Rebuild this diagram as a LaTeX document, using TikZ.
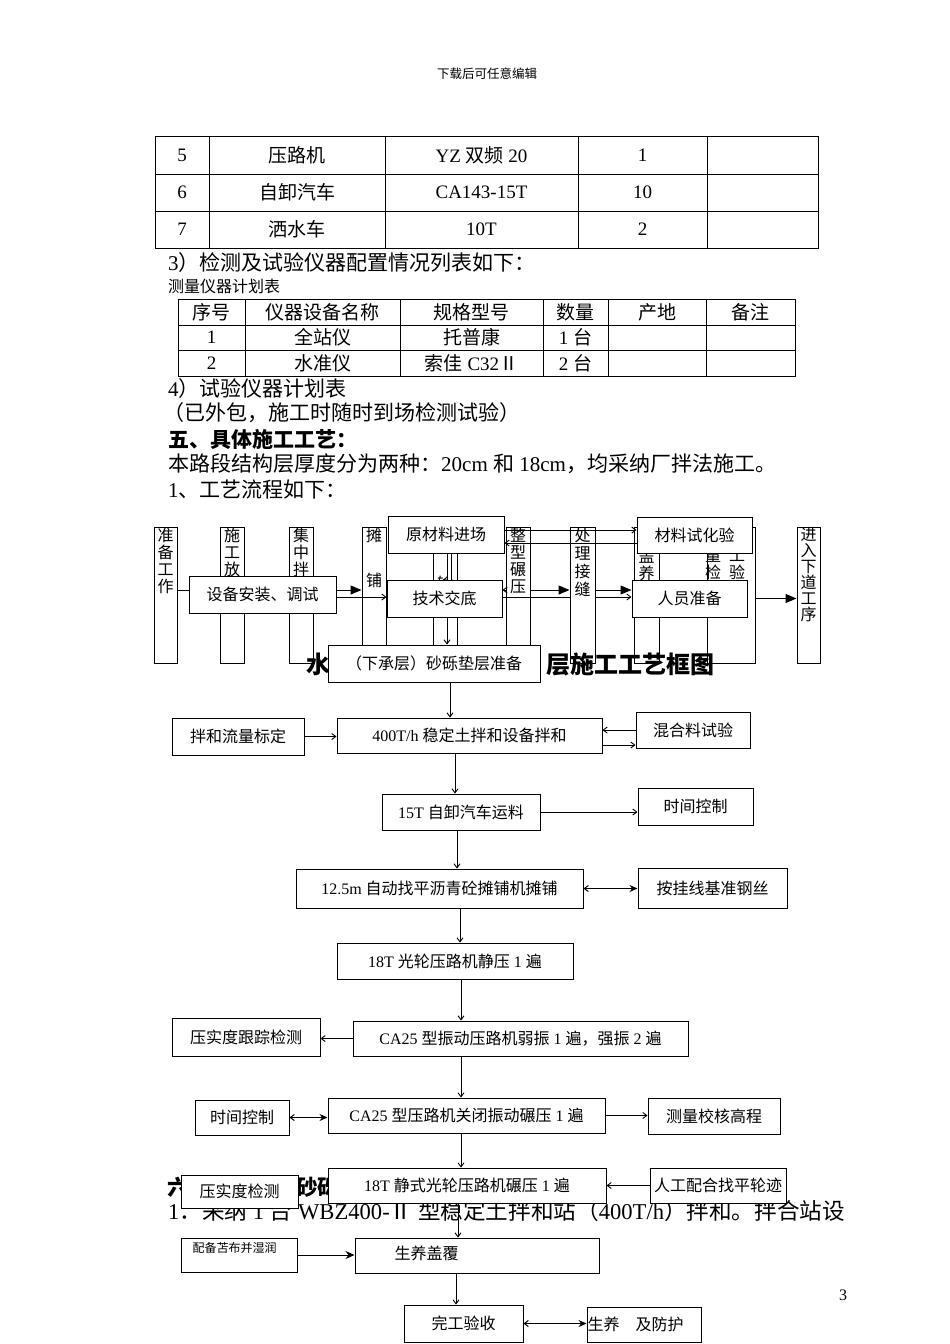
\documentclass[tikz,border=0pt]{standalone}
\usepackage{fontspec}
\setmainfont{Liberation Serif}
\newfontfamily\cjk{Noto Sans CJK SC}
\usetikzlibrary{arrows.meta}

% han characters and full-width signs are set in \cjk
\XeTeXinterchartokenstate=1
\newXeTeXintercharclass\hancls
\newcommand\hanrange[2]{%
  \count255=#1\relax
  \loop
    \XeTeXcharclass\count255=\hancls
    \ifnum\count255<#2\relax
    \advance\count255 by 1\relax
  \repeat}
\hanrange{"2160}{"217F}
\hanrange{"3000}{"303F}
\hanrange{"4E00}{"9FFF}
\hanrange{"FF00}{"FFEF}
\XeTeXinterchartoks 0 \hancls = {\cjk}
\XeTeXinterchartoks 4095 \hancls = {\cjk}
\XeTeXinterchartoks \hancls 0 = {\rmfamily}
\XeTeXinterchartoks \hancls 4095 = {\rmfamily}

\newcommand\fsz[1]{\fontsize{#1}{#1}\selectfont}

\begin{document}
\begin{tikzpicture}[x=1pt, y=-1pt,
  box/.style={draw, fill=white, line width=1pt, inner sep=0pt, font=\fsz{16}},
  vbox/.style={draw, line width=1pt, inner sep=0pt, minimum height=136pt},
  vtxt/.style={anchor=north, align=center, inner sep=0pt, yshift=-1pt, font=\fontsize{16}{17}\selectfont},
  tline/.style={line width=1pt},
  sarr/.style={line width=0.9pt, arrows={-Straight Barb[length=4pt,width=6pt]}},
  farr/.style={line width=1pt, arrows={-Triangle[length=11pt,width=9pt]}},
  darr/.style={line width=1pt, arrows={Straight Barb[length=4pt,width=6pt]-Stealth[length=8pt,width=7pt]}},
  parr/.style={line width=1pt, arrows={-Stealth[length=9pt,width=8pt]}},
  dline/.style={line width=0.8pt, double, double distance=2.5pt},
  txt/.style={anchor=west, inner sep=0pt},
  tcell/.style={inner sep=0pt, font=\fsz{19}}]
\fill[white] (0,0) rectangle (950,1344);
\useasboundingbox (0,0) rectangle (950,1344);

\node[inner sep=0pt, font=\fsz{12.5}] (hdr) at (487,74) {下载后可任意编辑};

% machine table
\draw[tline] (155,136) rectangle (818,248);
\foreach \yy in {174,211} \draw[tline] (155,\yy) -- (818,\yy);
\foreach \xx in {209,385,578,707} \draw[tline] (\xx,136) -- (\xx,248);
\foreach \cx/\cy/\txt [count=\k] in {182/155/5, 297/155/压路机, 481.5/155/YZ 双频 20, 642.5/155/1,
    182/192.5/6, 297/192.5/自卸汽车, 481.5/192.5/CA143-15T, 642.5/192.5/10,
    182/229.5/7, 297/229.5/洒水车, 481.5/229.5/10T, 642.5/229.5/2}
  \node[tcell] (ja\k) at (\cx,\cy) {\txt};

\node[txt, font=\fsz{21}] (p3) at (168,263) {3）检测及试验仪器配置情况列表如下：};
\node[txt, font=\fsz{16}] (p3t) at (168,286) {测量仪器计划表};

% instrument table
\draw[tline] (178,299) rectangle (795,376);
\foreach \yy in {325,350} \draw[tline] (178,\yy) -- (795,\yy);
\foreach \xx in {245,400,543,608,706} \draw[tline] (\xx,299) -- (\xx,376);
\foreach \cx/\cy/\txt [count=\k] in {211.5/312/序号, 322.5/312/仪器设备名称, 471.5/312/规格型号,
    575.5/312/数量, 657/312/产地, 750.5/312/备注,
    211.5/337.5/1, 322.5/337.5/全站仪, 471.5/337.5/托普康, 575.5/337.5/1 台,
    211.5/363/2, 322.5/363/水准仪, 471.5/363/索佳 C32Ⅱ, 575.5/363/2 台}
  \node[tcell] (yq\k) at (\cx,\cy) {\txt};

\node[txt, font=\fsz{21}] (p4) at (168,389) {4）试验仪器计划表};
\node[txt, font=\fsz{21}] (p4b) at (163,413) {（已外包，施工时随时到场检测试验）};
\node[txt, font=\bfseries\fsz{21}] (p5) at (168,439) {五、具体施工工艺：};
\node[txt, font=\fsz{21}] (p5a) at (168,464) {本路段结构层厚度分为两种：20cm 和 18cm，均采纳厂拌法施工。};
\node[txt, font=\fsz{21}] (p5b) at (168,490) {1、工艺流程如下：};

% upper chart: tall columns
\node[vbox, minimum width=23pt, label={[vtxt]north:{准\\备\\工\\作}}] (zb) at (165.5,595) {};
\node[vbox, minimum width=24pt, label={[vtxt]north:{施\\工\\放}}] (sg) at (232,595) {};
\node[vbox, minimum width=24pt, label={[vtxt]north:{集\\中\\拌}}] (jz) at (301,595) {};
\node[vbox, minimum width=24pt, label={[vtxt]north:{摊\\[28pt]铺}}] (tp) at (374,595) {};
\node[vbox, minimum width=24pt, label={[vtxt, yshift=-48pt]north:{输}}] (ys) at (445,595) {};
\node[vbox, minimum width=24pt, label={[vtxt]north:{整\\型\\碾\\压}}] (zx) at (518,595) {};
\node[vbox, minimum width=25pt, label={[vtxt, font=\fontsize{16}{18}\selectfont]north:{处\\理\\接\\缝}}] (cl) at (582.5,595) {};
\node[vbox, minimum width=25pt, label={[vtxt, yshift=-21pt]north:{盖\\养}}] (yh) at (646.5,595) {};
\node[vbox, minimum width=48pt, label={[vtxt, yshift=-21pt, xshift=-6pt]north:{量\hspace{8pt}工\\检\hspace{8pt}验}}] (zl) at (731,595) {};
\node[vbox, minimum width=23pt, label={[vtxt, font=\fontsize{16}{16}\selectfont]north:{进\\入\\下\\道\\工\\序}}] (jr) at (808.5,595) {};

\node[inner sep=0pt, font=\bfseries\fsz{24}] (tt1) at (318,664) {水};
\node[inner sep=0pt, font=\bfseries\fsz{24}] (tt2) at (630,664) {层施工工艺框图};

% upper chart: boxes over the columns
\node[box, minimum width=147pt, minimum height=37pt] (sbaz) at (262.5,594.5) {设备安装、调试};
\node[box, minimum width=116pt, minimum height=37pt] (ycl) at (446,534.5) {原材料进场};
\node[box, minimum width=115pt, minimum height=37pt] (jsjd) at (444.5,598.5) {技术交底};
\node[box, minimum width=212pt, minimum height=37pt] (sl) at (434,663.5) {（下承层）砂砾垫层准备};
\node[box, minimum width=115pt, minimum height=36pt] (clsh) at (694.5,535) {材料试化验};
\node[box, minimum width=115pt, minimum height=37pt] (rybz) at (689.5,598.5) {人员准备};

\draw[tline] ([yshift=4.5pt]sbaz.west -| zb.east) -- ([yshift=4.5pt]sbaz.west);
\draw[farr] ([yshift=4.5pt]sbaz.east) -- ([yshift=4.5pt]sbaz.east -| tp.west);
\draw[sarr] ([yshift=-2.5pt]sbaz.east) -- ([yshift=-2.5pt]sbaz.east -| jsjd.west);
\draw[dline] ([xshift=3.5pt]ycl.south) -- ([xshift=3.5pt]ycl.south |- jsjd.north);
\draw[sarr] ([xshift=2.5pt]jsjd.south) -- ([xshift=2.5pt]jsjd.south |- sl.north);
\draw[sarr] ([yshift=8.5pt]jsjd.east -| zx.west) -- ([yshift=8.5pt]jsjd.east);
\draw[farr] ([yshift=8.5pt]jsjd.east -| zx.east) -- ([yshift=8.5pt]jsjd.east -| cl.west);
\draw[tline] ([yshift=1.5pt]jsjd.east) -- ([yshift=1.5pt]jsjd.east -| cl.west);
\draw[farr] ([yshift=8.5pt]rybz.west -| cl.east) -- ([yshift=8.5pt]rybz.west);
\draw[sarr] ([yshift=1.5pt]rybz.west -| cl.east) -- ([yshift=1.5pt]rybz.west);
\draw[sarr] ([yshift=4.5pt]ycl.east) -- ([yshift=4.5pt]ycl.east -| clsh.west);
\draw[sarr] ([yshift=-8.5pt]ycl.east -| clsh.west) -- ([yshift=-8.5pt]ycl.east);
\draw[farr] (zl.east |- rybz.east) -- (jr.west |- rybz.east);

% lower chart
\node[txt, font=\bfseries\fsz{21.5}] (h6) at (167,1187) {六、水泥稳定砂砾};
\node[txt, font=\fsz{22.6}] (zd) at (168,1211) {1．采纳 1 台 WBZ400-Ⅱ 型稳定土拌和站（400T/h）拌和。拌合站设};

\node[box, minimum width=132pt, minimum height=37pt] (bll) at (238,736.5) {拌和流量标定};
\node[box, minimum width=265pt, minimum height=35pt] (bhe) at (469.5,735.5) {400T/h 稳定土拌和设备拌和};
\node[box, minimum width=114pt, minimum height=36pt] (hsy) at (693,730) {混合料试验};
\node[box, minimum width=158pt, minimum height=36pt] (ysl) at (461,812) {15T 自卸汽车运料};
\node[box, minimum width=115pt, minimum height=37pt] (sjkz1) at (695.5,806.5) {时间控制};
\node[box, minimum width=287pt, minimum height=39pt] (tpj) at (439.5,888.5) {12.5m 自动找平沥青砼摊铺机摊铺};
\node[box, minimum width=149pt, minimum height=40pt] (agx) at (712.5,888) {按挂线基准钢丝};
\node[box, minimum width=236pt, minimum height=36pt] (jy) at (455,961) {18T 光轮压路机静压 1 遍};
\node[box, minimum width=148pt, minimum height=38pt] (ysd1) at (246,1037) {压实度跟踪检测};
\node[box, minimum width=335pt, minimum height=35pt] (rz) at (520.5,1038.5) {CA25 型振动压路机弱振 1 遍，强振 2 遍};
\node[box, minimum width=94pt, minimum height=35pt] (sjkz2) at (242,1117.5) {时间控制};
\node[box, minimum width=277pt, minimum height=35pt] (gb) at (466.5,1115.5) {CA25 型压路机关闭振动碾压 1 遍};
\node[box, minimum width=132pt, minimum height=36pt] (clxh) at (714,1116) {测量校核高程};
\node[box, minimum width=117pt, minimum height=33pt] (ysd2) at (239.5,1191.5) {压实度检测};
\node[box, minimum width=278pt, minimum height=35pt] (jsgl) at (467,1185.5) {18T 静式光轮压路机碾压 1 遍};
\node[box, minimum width=136pt, minimum height=35pt] (rgph) at (718,1185.5) {人工配合找平轮迹};
\node[box, minimum width=116pt, minimum height=34pt,
  label={[anchor=north west, inner sep=0pt, xshift=12pt, yshift=-5pt, font=\fsz{12}]north west:{配备苫布并湿润}}] (pbtb) at (239,1255) {};
\node[box, minimum width=244pt, minimum height=35pt,
  label={[anchor=west, inner sep=0pt, xshift=40pt, yshift=2pt, font=\fsz{16}]west:{生养盖覆}}] (syfg) at (477,1255.5) {};
\node[box, minimum width=119pt, minimum height=37pt] (wgys) at (463.5,1323.5) {完工验收};
\node[box, minimum width=114pt, minimum height=35pt,
  label={[anchor=west, inner sep=0pt, xshift=1pt, font=\fsz{16}]west:{生养　及防护}}] (syfh) at (644,1324.5) {};

\draw[sarr] ([xshift=16pt]sl.south) -- ([xshift=16pt]sl.south |- bhe.north);
\draw[sarr] (bll.east) -- (bll.east -| bhe.west);
\draw[sarr] (hsy.west) -- (hsy.west -| bhe.east);
\draw[sarr] ([yshift=-9.5pt]bhe.east) -- ([yshift=-9.5pt]bhe.east -| hsy.west);
\draw[sarr] ([xshift=-14.5pt]bhe.south) -- ([xshift=-14.5pt]bhe.south |- ysl.north);
\draw[sarr] (ysl.east) -- (ysl.east -| sjkz1.west);
\draw[sarr] ([xshift=-4pt]ysl.south) -- ([xshift=-4pt]ysl.south |- tpj.north);
\draw[darr] (tpj.east) -- (tpj.east -| agx.west);
\draw[sarr] ([xshift=20.5pt]tpj.south) -- ([xshift=20.5pt]tpj.south |- jy.north);
\draw[sarr] ([xshift=6pt]jy.south) -- ([xshift=6pt]jy.south |- rz.north);
\draw[sarr] (rz.west) -- (rz.west -| ysd1.east);
\draw[sarr] ([xshift=-59.5pt]rz.south) -- ([xshift=-59.5pt]rz.south |- gb.north);
\draw[darr] (sjkz2.east) -- (sjkz2.east -| gb.west);
\draw[sarr] (gb.east) -- (gb.east -| clxh.west);
\draw[sarr] ([xshift=-5.5pt]gb.south) -- ([xshift=-5.5pt]gb.south |- jsgl.north);
\draw[sarr] (rgph.west) -- (rgph.west -| jsgl.east);
\draw[sarr] ([xshift=-9pt]jsgl.south) -- ([xshift=-9pt]jsgl.south |- syfg.north);
\draw[parr] (pbtb.east) -- (pbtb.east -| syfg.west);
\draw[sarr] ([xshift=-21pt]syfg.south) -- ([xshift=-21pt]syfg.south |- wgys.north);
\draw[darr] (wgys.east) -- (wgys.east -| syfh.west);

\node[inner sep=0pt, font=\fsz{16}] (pg) at (843,1295) {3};
\end{tikzpicture}
\end{document}
